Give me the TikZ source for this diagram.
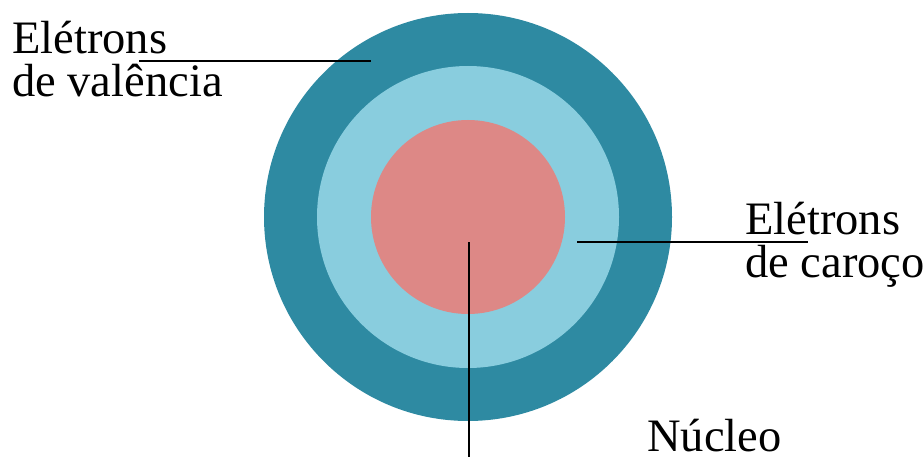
\documentclass[tikz,border=0pt]{standalone}
\usepackage{fontspec}
\setmainfont{Liberation Serif}
\definecolor{outerc}{HTML}{2E8AA2}
\definecolor{midc}{HTML}{89CDDE}
\definecolor{innerc}{HTML}{DD8886}
\begin{document}
\begin{tikzpicture}[x=1pt,y=-1pt,
  lbl/.style={inner sep=0pt,align=left,font=\fontsize{46.5}{43}\selectfont},
  leader/.style={draw=black,line width=1.4pt}]
\useasboundingbox (0,0) rectangle (923,457);
\fill[outerc] (468,217) circle[radius=204];
\fill[midc] (468,217) circle[radius=151];
\fill[innerc] (468,217) circle[radius=97];
\coordinate (vA) at (139,61);
\coordinate (vB) at (371,61);
\coordinate (cA) at (577,242);
\coordinate (cB) at (808,242);
\coordinate (nA) at (469,242);
\coordinate (nB) at (469,457);
\draw[leader] (vA) -- (vB);
\draw[leader] (cA) -- (cB);
\draw[leader] (nA) -- (nB);
\node[lbl,anchor=base west] (val) at (12,97) {Elétrons\\de valência};
\node[lbl,anchor=base west] (core) at (745,277) {Elétrons\\de caroço};
\node[lbl,anchor=base west,text depth=0pt] (nuc) at (647,451) {Núcleo};
\end{tikzpicture}
\end{document}
